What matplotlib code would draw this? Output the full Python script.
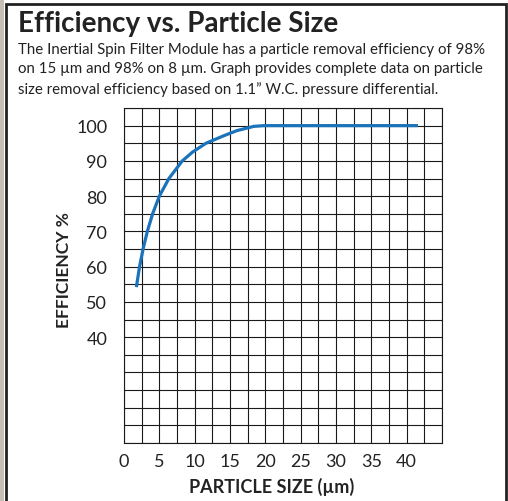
import matplotlib
matplotlib.use("Agg")
import matplotlib.pyplot as plt
from matplotlib.patches import Rectangle

# values
particle_size = [1.75, 2.2, 2.7, 3.3, 4.05, 5.0, 6.35, 8.25, 9.7, 11.6, 14.2, 16.0, 18.4, 19.8, 41.6]
efficiency = [54.2, 60, 65, 70, 75, 80, 85, 90, 92.5, 95, 97.2, 98.6, 99.8, 100, 100]

x_ticks = [0, 5, 10, 15, 20, 25, 30, 35, 40]
y_ticks = [40, 50, 60, 70, 80, 90, 100]
x_grid = [i * 2.5 for i in range(19)]
y_grid = [10 + i * 5 for i in range(20)]

title = "Efficiency vs. Particle Size"
blurb = ("The Inertial Spin Filter Module has a particle removal efficiency of 98%\n"
         "on 15 \u00b5m and 98% on 8 \u00b5m. Graph provides complete data on particle\n"
         "size removal efficiency based on 1.1\u201d W.C. pressure differential.")

W, H = 508, 502
fig = plt.figure(figsize=(W / 100, H / 100), dpi=100)
fig.patch.set_facecolor("white")

# page background and frame
fig.patches.append(Rectangle((0, 0), 4 / W, 1, transform=fig.transFigure,
                             facecolor="#c4c0b4", edgecolor="none", zorder=-2))
fig.patches.append(Rectangle((5.5 / W, -0.05), 500.5 / W, 1.05 - 4.5 / H, transform=fig.transFigure,
                             facecolor="none", edgecolor="#222222", linewidth=2, zorder=5))

fig.text(18 / W, 1 - 32 / H, title, fontsize=20, fontweight="bold", family="Lato",
         color="#222222", va="baseline")
fig.text(18 / W, 1 - 43 / H, blurb, fontsize=10.8, family="Lato", color="#222222",
         va="top", linespacing=1.5)

ax = fig.add_axes([124 / W, 1 - 444 / H, 318 / W, 335 / H])
ax.set_xlim(0, 45)
ax.set_ylim(10, 105)

ax.set_xticks(x_grid, minor=True)
ax.set_yticks(y_grid, minor=True)
ax.set_xticks(x_ticks)
ax.set_yticks(y_ticks)
ax.set_xticklabels([str(v) for v in x_ticks])
ax.set_yticklabels([str(v) for v in y_ticks])
ax.grid(True, which="both", color="#1a1a1a", linewidth=0.8)
ax.set_axisbelow(True)
ax.tick_params(which="both", length=0)
ax.tick_params(axis="x", pad=7, labelsize=13, labelcolor="#222222")
ax.tick_params(axis="y", pad=12, labelsize=13, labelcolor="#222222")
for lab in ax.get_xticklabels() + ax.get_yticklabels():
    lab.set_family("Lato")
for s in ax.spines.values():
    s.set_color("#1a1a1a")
    s.set_linewidth(0.8)

ax.plot(particle_size, efficiency, color="#1a73bb", linewidth=2.3,
        solid_capstyle="butt", solid_joinstyle="round", zorder=3)

fig.text(64 / W, 1 - 270 / H, "EFFICIENCY %", rotation=90, fontsize=12.5, fontweight="bold",
         family="Lato", color="#222222", ha="center", va="center")
fig.text(272 / W, 1 - 487 / H, "PARTICLE SIZE (\u00b5m)", fontsize=13, fontweight="bold",
         family="Lato", color="#222222", ha="center", va="center")

fig.savefig("out.png", dpi=100)
